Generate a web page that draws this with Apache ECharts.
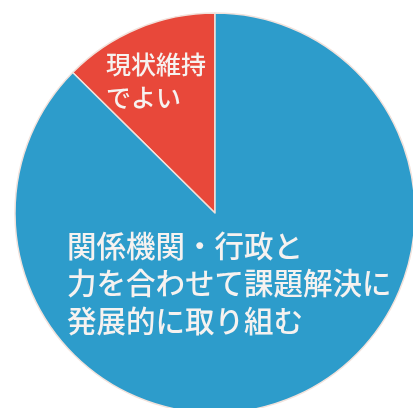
<!DOCTYPE html>
<html>
<head>
<meta charset="utf-8">
<script src="https://cdn.jsdelivr.net/npm/echarts@6/dist/echarts.min.js"></script>
<style>
  html, body { margin: 0; padding: 0; background: #ffffff; }
  #chart { width: 413px; height: 408px; }
</style>
</head>
<body>
<div id="chart"></div>
<script>
// Survey answers (share of respondents, %)
const categories = [
  '現状維持\nでよい',
  '関係機関・行政と\n力を合わせて課題解決に\n発展的に取り組む'
];
const shares = [12.6, 87.4];
const sliceColors = ['#e8483a', '#2d9ccb'];

// label anchor (top-left) for each slice, in px
const labelAnchors = [
  { x: 106, y: 48, size: 25, lh: 33 },
  { x: 67, y: 227, size: 29.5, lh: 37.5 }
];

const chart = echarts.init(document.getElementById('chart'), null, { renderer: 'canvas' });

chart.setOption({
  animation: false,
  backgroundColor: '#ffffff',
  series: [{
    type: 'pie',
    center: [215, 213],
    radius: 200,
    startAngle: 90,
    clockwise: false,
    silent: true,
    itemStyle: { borderColor: '#f1e2dc', borderWidth: 1.5 },
    label: {
      show: true,
      position: 'inside',
      color: '#f6f2f0',
      fontFamily: '"Noto Sans CJK JP", sans-serif',
      fontWeight: 500,
      formatter: p => p.name
    },
    labelLine: { show: false },
    labelLayout: p => {
      const a = labelAnchors[p.dataIndex];
      return { x: a.x, y: a.y, align: 'left', verticalAlign: 'top', fontSize: a.size, lineHeight: a.lh };
    },
    data: categories.map((name, i) => ({
      name,
      value: shares[i],
      itemStyle: { color: sliceColors[i] },
      label: { fontSize: labelAnchors[i].size, lineHeight: labelAnchors[i].lh }
    }))
  }]
});
</script>
</body>
</html>
